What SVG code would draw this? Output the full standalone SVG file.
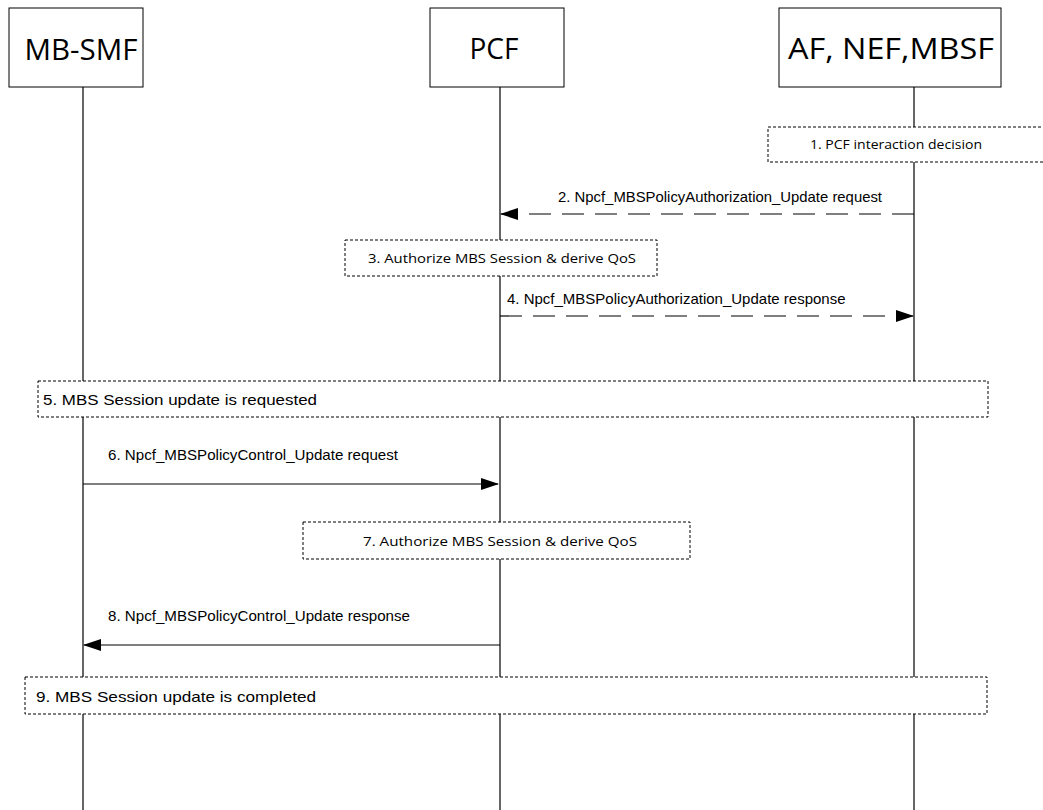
<svg xmlns="http://www.w3.org/2000/svg" width="1043" height="810" viewBox="0 0 1043 810">
<style>
.hdr{fill:#fff;stroke:#000;stroke-width:1}
.ht{font-family:"Open Sans","Liberation Sans",sans-serif;font-size:29px;fill:#000;text-anchor:middle}
.life{stroke:#000;stroke-width:1.2}
.box{fill:#fff;stroke:#000;stroke-width:1;stroke-dasharray:3,2}
.bt{font-family:"Open Sans","Liberation Sans",sans-serif;font-size:13.5px;fill:#000;text-anchor:middle}
.lt{font-family:"Liberation Sans",Arial,sans-serif;font-size:15px;fill:#000}
.msg{stroke:#000;stroke-width:1.2;fill:none}
.dash{stroke-dasharray:22,11}
</style>
<defs>
<marker id="ah" markerWidth="18" markerHeight="12" refX="17" refY="6" orient="auto" markerUnits="userSpaceOnUse">
<path d="M0,0 L18,6 L0,12 Z" fill="#000"/>
</marker>
</defs>
<g id="lifelines">
<line class="life" x1="83" y1="87" x2="83" y2="810"/>
<line class="life" x1="500" y1="87" x2="500" y2="810"/>
<line class="life" x1="914" y1="87" x2="914" y2="810"/>
</g>
<g id="node-mbsmf">
<rect class="hdr" x="9" y="8" width="134" height="79"/>
<text class="ht" x="81" y="60" textLength="113" lengthAdjust="spacingAndGlyphs">MB-SMF</text>
</g>
<g id="node-pcf">
<rect class="hdr" x="430" y="8" width="134" height="79"/>
<text class="ht" x="494" y="59" textLength="49" lengthAdjust="spacingAndGlyphs">PCF</text>
</g>
<g id="node-af">
<rect class="hdr" x="779" y="8" width="222" height="79"/>
<text class="ht" x="891" y="59" textLength="206" lengthAdjust="spacingAndGlyphs">AF, NEF,MBSF</text>
</g>
<g id="step1">
<rect class="box" x="768" y="127" width="280" height="35"/>
<text class="bt" x="896" y="149" textLength="172" lengthAdjust="spacingAndGlyphs">1. PCF interaction decision</text>
</g>
<g id="step3">
<rect class="box" x="345" y="240" width="312" height="36"/>
<text class="bt" x="502" y="263" textLength="268" lengthAdjust="spacingAndGlyphs">3. Authorize MBS Session &amp; derive QoS</text>
</g>
<g id="step5">
<rect class="box" x="38" y="381" width="950" height="36"/>
<text class="lt" x="43" y="405" textLength="274" lengthAdjust="spacingAndGlyphs">5. MBS Session update is requested</text>
</g>
<g id="step7">
<rect class="box" x="303" y="522" width="387" height="37"/>
<text class="bt" x="500" y="546" textLength="274" lengthAdjust="spacingAndGlyphs">7. Authorize MBS Session &amp; derive QoS</text>
</g>
<g id="step9">
<rect class="box" x="25" y="677" width="962" height="37"/>
<text class="lt" x="36" y="702" textLength="280" lengthAdjust="spacingAndGlyphs">9. MBS Session update is completed</text>
</g>
<g id="connectors">
<line class="msg dash" x1="914" y1="214" x2="501" y2="214" marker-end="url(#ah)"/>
<text class="lt" x="558" y="202" textLength="324" lengthAdjust="spacingAndGlyphs">2. Npcf_MBSPolicyAuthorization_Update request</text>
<line class="msg dash" x1="500" y1="316" x2="913" y2="316" marker-end="url(#ah)"/>
<text class="lt" x="507" y="304">4. Npcf_MBSPolicyAuthorization_Update response</text>
<line class="msg" x1="83" y1="484" x2="498" y2="484" marker-end="url(#ah)"/>
<text class="lt" x="108" y="460" textLength="290" lengthAdjust="spacingAndGlyphs">6. Npcf_MBSPolicyControl_Update request</text>
<line class="msg" x1="500" y1="645" x2="84" y2="645" marker-end="url(#ah)"/>
<text class="lt" x="108" y="621" textLength="302" lengthAdjust="spacingAndGlyphs">8. Npcf_MBSPolicyControl_Update response</text>
</g>
</svg>
